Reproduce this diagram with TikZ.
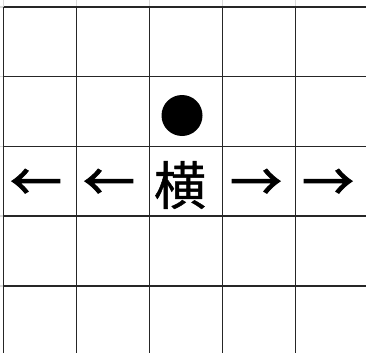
\documentclass[tikz,border=0pt]{standalone}
\usepackage{fontspec}
\newfontfamily\cjk[FakeBold=0.8]{Noto Sans CJK JP}
\newfontfamily\cjkarrow[FakeBold=1.8]{Noto Sans CJK JP}
\usetikzlibrary{positioning}

\begin{document}
\begin{tikzpicture}[x=1pt,y=-1pt,
    gridline/.style={black!85,line width=1.5pt},
    stub/.style={black!15,line width=1.5pt},
    glyph/.style={inner sep=0pt,font=\cjk\fontsize{52}{52}\selectfont},
    arrowglyph/.style={glyph,font=\cjkarrow\fontsize{52}{52}\selectfont}]

                % Picture frame
                \useasboundingbox (0,0) rectangle (366,353);
                \clip (0,0) rectangle (366,353);

                % Faint stubs outside the grid
                \foreach \i in {0,...,4} {
                    \draw[stub] (3.5+73*\i,0) -- (3.5+73*\i,7);
                }
                \foreach \j in {0,...,4} {
                    \draw[stub] (0,7+69.7*\j) -- (3.5,7+69.7*\j);
                }

                % Grid lines (cut off at the right and bottom)
                \foreach \i in {0,...,4} {
                    \draw[gridline] (3.5+73*\i,7) -- (3.5+73*\i,353);
                }
                \foreach \j in {0,...,4} {
                    \draw[gridline] (3.5,7+69.7*\j) -- (366,7+69.7*\j);
                }

                % Stone
                \node[circle,fill=black,inner sep=0pt,minimum size=41pt] (stone) at (182,115.5) {};

                % Middle row
                \node[glyph] (yoko) at (180,185) {横};
                \node[arrowglyph] (left1) at (36,185) {←};
                \node[arrowglyph] (left2) at (109,185) {←};
                \node[arrowglyph] (right1) at (256,185) {→};
                \node[arrowglyph] (right2) at (328,185) {→};
            \end{tikzpicture}
\end{document}
